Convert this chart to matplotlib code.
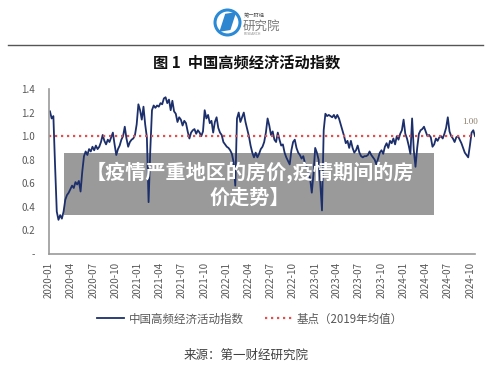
import matplotlib
matplotlib.use("Agg")
import matplotlib.pyplot as plt
import matplotlib.dates as mdates
from matplotlib.patches import Rectangle, Circle, Polygon
import pandas as pd

plt.rcParams['font.family'] = ['Noto Sans CJK SC', 'DejaVu Sans']

# weekly China high-frequency economic activity index
index_values = [
    # 2020
    1.21, 1.15, 1.17, 0.75, 0.36, 0.29, 0.33, 0.30, 0.36, 0.46,
    0.50, 0.52, 0.55, 0.58, 0.56, 0.61, 0.59, 0.62, 0.53, 0.70,
    0.83, 0.87, 0.84, 0.89, 0.87, 0.91, 0.88, 0.92, 0.89, 0.91,
    0.95, 1.01, 0.96, 0.93, 0.97, 0.95, 0.99, 1.03, 0.93, 0.84,
    0.89, 0.92, 0.97, 1.00, 1.08, 0.98, 0.91, 0.95, 0.97, 0.98,
    1.01, 1.10,
    # 2021
    1.27, 1.22, 1.14, 1.25, 1.10, 0.99, 0.44, 0.88, 1.22, 1.26,
    1.24, 1.26, 1.25, 1.28, 1.27, 1.32, 1.33, 1.28, 1.31, 1.22,
    1.30, 1.21, 1.19, 1.12, 1.16, 1.14, 1.09, 1.13, 1.11, 1.04,
    0.98, 1.03, 1.05, 1.06, 1.02, 1.05, 1.03, 1.00, 1.04, 1.22,
    1.15, 1.18, 1.11, 1.13, 1.03, 1.12, 1.16, 1.07, 1.03, 1.01,
    0.95, 0.93, 0.91,
    # 2022
    0.90, 0.88, 0.85, 0.78, 0.58, 1.15, 1.20, 1.12, 1.16, 1.20,
    1.12, 1.06, 1.00, 0.92, 0.86, 0.82, 0.86, 0.82, 0.85, 0.89,
    0.91, 0.95, 1.03, 1.15, 1.09, 1.01, 1.04, 0.97, 0.95, 1.03,
    0.97, 0.92, 0.93, 0.86, 0.82, 0.79, 0.76, 0.88, 0.95, 0.97,
    0.90, 0.86, 0.84, 0.81, 0.83, 0.77, 0.74, 0.70, 0.64, 0.52,
    0.68, 0.90, 0.86, 0.80, 0.60, 0.37, 1.05, 1.19,
    # 2023
    1.17, 1.18, 1.17, 1.16, 1.18, 1.15, 1.18, 1.15, 1.10, 1.05,
    1.00, 0.94, 0.96, 0.90, 0.96, 0.90, 0.86, 0.88, 0.92, 0.86,
    0.83, 0.82, 0.83, 0.83, 0.84, 0.87, 0.84, 0.82, 0.80, 0.76,
    0.81, 0.86, 0.88, 0.85, 0.91, 0.94, 0.90, 0.96, 0.94, 0.98,
    0.93, 1.00, 0.97,
    # 2024
    1.02, 1.05, 1.14, 1.02, 0.98, 0.92, 0.85, 1.15, 0.88, 0.74,
    0.90, 1.02, 1.05, 1.06, 1.08, 1.04, 1.00, 1.01, 0.99, 0.91,
    0.93, 0.98, 0.96, 0.99, 1.00, 0.98, 1.02, 1.07, 1.16, 1.04,
    1.00, 0.98, 0.95, 0.99, 1.00, 0.97, 0.94, 0.90, 0.86, 0.84,
    0.82, 0.92, 1.03, 1.05, 1.00,
]
weeks = pd.date_range('2020-01-05', periods=len(index_values), freq='W-SUN')
baseline = 1.0   # 2019 average

quarters = pd.date_range('2020-01-01', '2024-10-01', freq='QS')
quarter_labels = [d.strftime('%Y-%m') for d in quarters]
years = pd.date_range('2020-01-01', '2024-01-01', freq='YS')

ytick_vals = [0, 0.2, 0.4, 0.6, 0.8, 1.0, 1.2, 1.4]
ytick_labels = ['-', '0.2', '0.4', '0.6', '0.8', '1.0', '1.2', '1.4']

fig = plt.figure(figsize=(5, 3.7), dpi=100)
fig.patch.set_facecolor('white')

# header: logo + rule + title
logo = fig.add_axes([0.426, 0.90, 0.058, 0.0784])
logo.set_xlim(0, 1)
logo.set_ylim(0, 1)
logo.axis('off')
logo.add_patch(Circle((0.5, 0.5), 0.43, fill=False, ec='#2b8ad6', lw=2.2))
logo.add_patch(Polygon([(0.22, 0.18), (0.42, 0.80), (0.80, 0.86), (0.60, 0.24)],
                       closed=True, fc='#2e86d0', ec='none'))
fig.text(0.487, 0.958, '第一财经', fontsize=3.8, color='#555555', va='center')
fig.text(0.485, 0.93, '研究院', fontsize=9, color='#7a7a7a', va='center')
fig.text(0.487, 0.908, 'RESEARCH', fontsize=2.5, color='#888888', va='center')

fig.add_artist(plt.Line2D([0.016, 0.966], [1 - 45/370, 1 - 45/370],
                          color='#555555', lw=1.0))
fig.text(0.493, 1 - 63/370, '图 1  中国高频经济活动指数', fontsize=11,
         fontweight='bold', ha='center', va='center', color='#111111')

# main chart
ax = fig.add_axes([0.098, 0.3135, 0.852, 0.446])
ax.set_facecolor('none')
ax.plot(weeks, index_values, color='#1c2f6b', lw=1.3,
        label='中国高频经济活动指数')
ax.axhline(baseline, color='#e05050', lw=1.6, ls=(0, (1, 1.7)),
           label='基点（2019年均值）')
ax.annotate('1.00', (weeks[-1], index_values[-1]), xytext=(-3.5, 10),
            textcoords='offset points', ha='center', va='center',
            fontsize=6.5, color='#8c7b6b', family='Liberation Serif')

ax.set_xlim(pd.Timestamp('2020-01-01'), weeks[-1])
ax.set_ylim(0, 1.4)
ax.set_yticks(ytick_vals)
ax.set_yticklabels(ytick_labels)
ax.set_xticks(quarters)
ax.set_xticklabels(quarter_labels, rotation=90)
ax.set_xticks(years, minor=True)
ax.tick_params(axis='y', length=0, pad=10, labelsize=7, labelcolor='#595959')
ax.tick_params(axis='x', which='major', length=0, pad=6, labelsize=7,
               labelcolor='#595959')
ax.tick_params(axis='x', which='minor', length=3, direction='in',
               color='#999999', width=1)
for side in ['top', 'right']:
    ax.spines[side].set_visible(False)
for side in ['left', 'bottom']:
    ax.spines[side].set_color('#999999')
    ax.spines[side].set_linewidth(1.2)

fig.legend(*ax.get_legend_handles_labels(), loc='center',
           bbox_to_anchor=(0.5, 1 - 319/370), ncol=2, frameon=False,
           fontsize=8.3, labelcolor='#595959', handlelength=2.35,
           handletextpad=0.35, columnspacing=1.9)

fig.text(0.492, 1 - 355/370, '来源：第一财经研究院', fontsize=9,
         ha='center', va='center', color='#404040')

# grey overlay banner
fig.add_artist(Rectangle((0.128, 0.419), 0.74, 0.1676, transform=fig.transFigure,
                         fc='#9a9a9a', ec='none', zorder=-1))
fig.text(0.5, 1 - 172/370, '【疫情严重地区的房价,疫情期间的房', fontsize=14.5,
         fontweight='bold', color='white', ha='center', va='center', zorder=10)
fig.text(0.5, 1 - 197/370, '价走势】', fontsize=14.5,
         fontweight='bold', color='white', ha='center', va='center', zorder=10)

fig.savefig('out.png', dpi=100)
